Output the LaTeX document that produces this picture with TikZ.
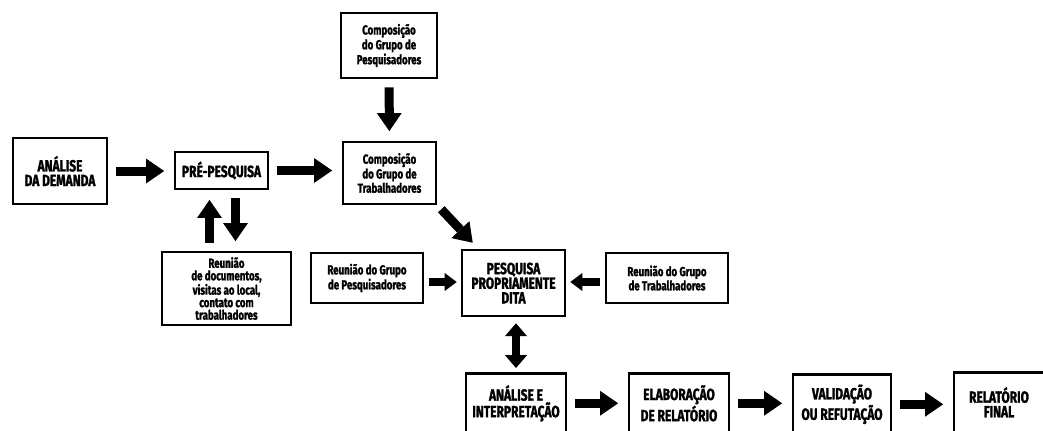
\documentclass[tikz,border=0pt]{standalone}
\usepackage{fontspec}
\setmainfont{Fira Sans}[FakeStretch=0.74, BoldFeatures={FakeBold=1.6}]
\usetikzlibrary{arrows.meta,calc}
\tikzset{
  box/.style={draw=black, line width=1.8pt, align=center, inner sep=1pt,
    font=\bfseries\fontsize{9.3}{8.9}\selectfont},
  capbox/.style={box, font=\bfseries\fontsize{11.5}{10.4}\selectfont},
  blk/.style={draw=black, line width=6.4pt,
    -{Triangle[length=0.45cm,width=0.62cm,line width=0pt]},
    shorten <=0.2cm, shorten >=0.24cm},
  blks/.style={draw=black, line width=5pt,
    -{Triangle[length=0.3cm,width=0.45cm,line width=0pt]},
    shorten <=0.12cm, shorten >=0.1cm},
  dbl/.style={draw=black, line width=5.2pt,
    {Triangle[length=0.32cm,width=0.55cm,line width=0pt]}-{Triangle[length=0.32cm,width=0.55cm,line width=0pt]},
    shorten <=0.1cm, shorten >=0.15cm}
}

\begin{document}
\begin{tikzpicture}[x=0.025cm, y=-0.025cm]
  \useasboundingbox (0,0) rectangle (1043,430);
  \clip (0,0) rectangle (1043,430);

  % first row
  \node[capbox, minimum width=2.35cm, minimum height=1.65cm] (demanda) at (60,171) {ANÁLISE\\DA DEMANDA};
  \node[capbox, minimum width=2.325cm, minimum height=0.925cm] (prepesq) at (221.5,170.5) {PRÉ-PESQUISA};
  \node[box, minimum width=3.225cm, minimum height=1.825cm] (reudoc) at (226.5,288.5)
    {Reunião\\de documentos,\\visitas ao local,\\contato com\\trabalhadores};
  \node[box, minimum width=2.4cm, minimum height=1.625cm] (comppesq) at (389,45.5)
    {Composição\\do Grupo de\\Pesquisadores};
  \node[box, minimum width=2.325cm, minimum height=1.55cm] (comptrab) at (389.5,173)
    {Composição\\do Grupo de\\Trabalhadores};

  % middle
  \node[capbox, minimum width=2.575cm, minimum height=1.65cm] (pesquisa) at (513.5,283)
    {PESQUISA\\PROPRIAMENTE\\DITA};
  \node[box, minimum width=2.8cm, minimum height=1.25cm] (reugp) at (367,278)
    {Reunião do Grupo\\de Pesquisadores};
  \node[box, minimum width=3.05cm, minimum height=1.25cm] (reugt) at (667,278)
    {Reunião do Grupo\\de Trabalhadores};

  % last row
  \node[capbox, anchor=north, minimum width=2.5cm, minimum height=1.5cm] (analise) at (516,372)
    {ANÁLISE E\\INTERPRETAÇÃO};
  \node[capbox, anchor=north, minimum width=2.5cm, minimum height=1.5cm] (elabor) at (679,372)
    {ELABORAÇÃO\\DE RELATÓRIO};
  \node[capbox, anchor=north, minimum width=2.45cm, minimum height=1.5cm] (valid) at (842,373)
    {VALIDAÇÃO\\OU REFUTAÇÃO};
  \node[capbox, anchor=north, minimum width=2.25cm, minimum height=1.5cm] (final) at (999,371)
    {RELATÓRIO\\FINAL};

  \draw[blk] (demanda) -- (prepesq.west |- demanda);
  \draw[blk] (prepesq.east) -- (prepesq.east -| comptrab.west);
  \draw[blk] (comppesq) -- (comptrab);
  \draw[blk, shorten <=0pt, shorten >=0pt] ($(comptrab.south east)+(4,4)$) -- ($(pesquisa.north west)+(12,-6)$);
  \draw[blk] ($(reudoc.north)+(-17,0)$) -- ($(prepesq.south)+(-12,0)$);
  \draw[blk] ($(prepesq.south)+(14,0)$) -- ($(reudoc.north)+(9,0)$);
  \draw[blks] ($(reugp.east)+(0,4)$) -- ($(pesquisa.west)+(0,-1)$);
  \draw[blks] ($(reugt.west)+(0,4)$) -- ($(pesquisa.east)+(0,-1)$);
  \draw[dbl] (analise.north) -- (analise.north |- pesquisa.south);
  \draw[blk] (analise) -- (elabor);
  \draw[blk] (elabor) -- (valid.west |- elabor);
  \draw[blk] (valid) -- (final.west |- valid);
\end{tikzpicture}
\end{document}
